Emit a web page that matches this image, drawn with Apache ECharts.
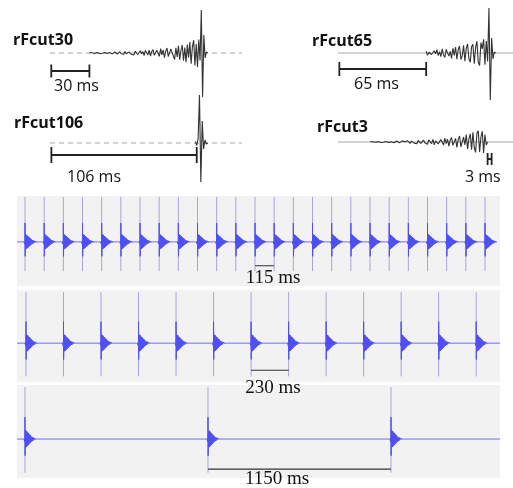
<!DOCTYPE html>
<html><head><meta charset="utf-8">
<script src="https://cdn.jsdelivr.net/npm/echarts@6/dist/echarts.min.js"></script>
<style>html,body{margin:0;padding:0;background:#fff}#c{width:513px;height:488px}</style>
</head><body><div id="c"></div>
<script>
// ================= DATA =================
// Top: single stimulus traces (1 sample per ms, time 0 = final click / end of noise)
const traceLabels = ['rFcut30', 'rFcut65', 'rFcut106', 'rFcut3'];
const traceScaleMs = [30, 65, 106, 3];
const traceStartMs = [-88, -47, -3, -87];

const rFcut30 = [
  0.3,-0.6,0.2,0.7,-0.4,-0.8,0.5,0.2,-0.6,0.9,-0.3,-0.7,0.6,1.0,-0.5,-1.1,0.4,0.8,-0.9,0.3,1.2,-0.6,-1.0,0.7,1.3,-0.8,0.2,-1.2,
  1.5,-0.7,-1.6,1.1,2.0,-1.3,0.5,-2.1,1.8,0.9,-1.5,-2.4,2.2,-0.8,1.4,-2.7,2.6,0.7,-1.9,2.9,
  -3.2,1.4,3.5,-2.2,-3.9,2.8,0.9,-3.4,4.3,-1.8,3.1,-4.6,2.0,5.0,-3.7,
  -5.4,4.1,6.0,-2.8,-6.5,5.2,-3.9,7.2,-6.8,2.5,8.0,-7.6,5.4,
  -9.2,8.4,-4.6,11.0,-10.8,6.3,12.8,-12.4,9.0,-14.0,13.5,-7.5,
  43,-44,18,-5,1,0
];
const rFcut65 = [
  1.8,-2.4,0.9,2.6,-1.5,-3.0,2.2,-0.8,3.3,-2.7,1.4,-3.6,
  4.2,-1.9,-4.5,3.6,5.0,-3.1,1.7,-5.4,4.8,-2.4,6.0,-6.2,
  3.5,7.0,-6.4,-2.9,7.8,-8.2,4.6,9.0,-5.8,-9.4,6.2,8.8,
  -10.6,5.4,11.8,-9.2,-12.5,10.4,4.2,13.6,-11.8,12.0,-8.5,
  45,-47,15,-6,1,0
];
const rFcut106 = [1.5,-2.5,4,48,-39,22,-6,3,-1,0];
const rFcut3 = [
  0.3,-0.5,0.2,0.6,-0.3,-0.6,0.4,0.1,-0.5,0.7,-0.2,-0.6,0.5,0.8,-0.4,-0.9,0.3,0.7,-0.8,0.2,1.0,-0.5,-0.9,0.6,1.1,-0.7,0.3,-1.1,
  1.3,-0.6,-1.4,0.9,1.7,-1.1,0.4,-1.8,1.5,0.8,-1.3,-2.0,1.9,-0.7,1.2,-2.3,2.2,0.6,-1.7,
  2.6,-2.9,1.2,3.2,-1.9,-3.5,2.5,0.8,-3.1,3.9,-1.6,2.8,-4.2,1.8,4.6,-3.4,-4.9,3.6,
  -5.4,2.6,6.0,-4.8,-6.6,5.0,-2.8,7.4,-6.9,3.2,8.2,-7.8,
  9.6,-5.5,-10.4,8.8,11.2,-9.9,5.0,10.8,-11.0,7.5,-3.0,0
];

// Bottom: click trains (onset times in ms)
const trainIntervalsMs = [115, 230, 1150];
const train115Onsets = [0,115,230,345,460,575,690,805,920,1035,1150,1265,1380,1495,1610,1725,1840,1955,2070,2185,2300,2415,2530,2645,2760];
const train230Onsets = [0,230,460,690,920,1150,1380,1610,1840,2070,2300,2530,2760];
const train1150Onsets = [0,1150,2300];
// one click waveform (relative time ms, normalised amplitude)
const pulseDt  = [-6,-4,-2,0,0,1,3,5,7,9,11,13,15,17,19,21,23,25,27,29,31,33,35,37,39,42,45,48,51,54,57,60,64,68,72];
const pulseAmp = [0,0.03,-0.05,0.08,0.42,-0.32,0.17,-0.16,0.16,-0.15,0.15,-0.14,0.13,-0.13,0.12,-0.11,0.11,-0.1,0.09,-0.09,0.08,-0.07,0.07,-0.06,0.05,-0.05,0.04,-0.035,0.03,-0.025,0.02,-0.015,0.01,-0.005,0];
const clickPeak = 1.0, clickTrough = -0.65;

// ================= LAYOUT =================
const topGrids = [
  {left:50, top:5,  width:192, height:95, x:[-119,32], y:[-47,48], dashed:true,  bar:{start:-118, y:-18, tick:6.5}},
  {left:338,top:5,  width:175, height:97, x:[-113,18], y:[-49,48], dashed:false, bar:{start:-112, y:-16, tick:7}},
  {left:50, top:93, width:192, height:97, x:[-109,31], y:[-47,50], dashed:true,  bar:{start:-108, y:-12, tick:8}},
  {left:338,top:93, width:175, height:97, x:[-111,20], y:[-48,49], dashed:false, bar:{start:1, y:-17, tick:6}}
];
const botGrids = [
  {left:17, top:196, width:483, height:90, x:[-48,2850], y:[-0.98,1.02], baseEnd:2832, bar:{start:1380, y:-0.53}},
  {left:17, top:290, width:483, height:92, x:[-55,2906], y:[-0.76,1.04], baseEnd:2906, bar:{start:1380, y:-0.53}},
  {left:17, top:385, width:483, height:93, x:[-50,2985], y:[-0.75,1.04], baseEnd:2985, bar:{start:1150, y:-0.58}}
];
const traces = [rFcut30, rFcut65, rFcut106, rFcut3];
const trains = [train115Onsets, train230Onsets, train1150Onsets];

const grid = [], xAxis = [], yAxis = [], series = [];
function addAxes(g, i, bg) {
  grid.push({left:g.left, top:g.top, width:g.width, height:g.height, containLabel:false,
    show:!!bg, backgroundColor:bg||'transparent', borderWidth:0});
  xAxis.push({type:'value', gridIndex:i, min:g.x[0], max:g.x[1], show:false});
  yAxis.push({type:'value', gridIndex:i, min:g.y[0], max:g.y[1], show:false});
}
const ln = (idx, data, style, z) => ({type:'line', xAxisIndex:idx, yAxisIndex:idx, data, symbol:'none',
  silent:true, animation:false, smooth:false, lineStyle:style, z:z||2, connectNulls:false});

topGrids.forEach((g, i) => {
  addAxes(g, i);
  series.push(ln(i, [[g.x[0],0],[g.x[1],0]], {width:1, color:'#a8a8a8', type:g.dashed?[5,4]:'solid'}, 1));
  const wave = traces[i].map((v, k) => [traceStartMs[i] + k, v]);
  series.push(ln(i, wave, {width:1.1, color:'#333333'}, 3));
  const b = g.bar, L = traceScaleMs[i];
  series.push(ln(i, [[b.start,b.y-b.tick],[b.start,b.y+b.tick],[b.start,b.y],[b.start+L,b.y],[b.start+L,b.y+b.tick],[b.start+L,b.y-b.tick]],
    {width:1.8, color:'#222'}, 4));
});

botGrids.forEach((g, j) => {
  const i = j + 4;
  addAxes(g, i, '#f2f2f2');
  const onsets = trains[j];
  // straight baseline
  series.push(ln(i, [[g.x[0],0],[g.baseEnd,0]], {width:1, color:'#7070ee'}, 2));
  const spikes = [];
  onsets.forEach(t => { spikes.push([t, clickPeak], [t, clickTrough], [t, '-']); });
  series.push(ln(i, spikes, {width:1, color:'#a6a6dc'}, 3));
  const burst = [];
  onsets.forEach(t => { pulseDt.forEach((d, k) => burst.push([t + d, pulseAmp[k]])); burst.push([t + 80, '-']); });
  series.push(ln(i, burst, {width:1, color:'#4f4ff2'}, 4));
  const b = g.bar;
  series.push(ln(i, [[b.start,b.y],[b.start+trainIntervalsMs[j],b.y]], {width:1.2, color:'#333'}, 5));
});

// ================= TEXT =================
const sans = 'Open Sans, Liberation Sans, sans-serif';
const serif = 'Liberation Serif, Times New Roman, serif';
const txt = (x, y, text, font, align) => ({type:'text', x, y, silent:true,
  style:{text, font, fill:'#111', textAlign:align||'left', align:align||'left', textVerticalAlign:'middle', verticalAlign:'middle'}});
const graphic = [
  txt(13, 40, traceLabels[0], 'bold 16px ' + sans),
  txt(312, 41, traceLabels[1], 'bold 16px ' + sans),
  txt(14, 123, traceLabels[2], 'bold 16px ' + sans),
  txt(317, 127, traceLabels[3], 'bold 16px ' + sans),
  txt(54, 86.5, traceScaleMs[0] + ' ms', '16px ' + sans),
  txt(354, 84.5, traceScaleMs[1] + ' ms', '16px ' + sans),
  txt(67, 177.5, traceScaleMs[2] + ' ms', '16px ' + sans),
  txt(465, 177.5, traceScaleMs[3] + ' ms', '16px ' + sans),
  txt(273, 278.5, trainIntervalsMs[0] + ' ms', '19px ' + serif, 'center'),
  txt(273, 388.5, trainIntervalsMs[1] + ' ms', '19px ' + serif, 'center'),
  txt(277, 479.5, trainIntervalsMs[2] + ' ms', '19px ' + serif, 'center')
];

const chart = echarts.init(document.getElementById('c'), null, {renderer:'canvas'});
chart.setOption({animation:false, backgroundColor:'#fff', grid, xAxis, yAxis, series, graphic});
</script></body></html>
